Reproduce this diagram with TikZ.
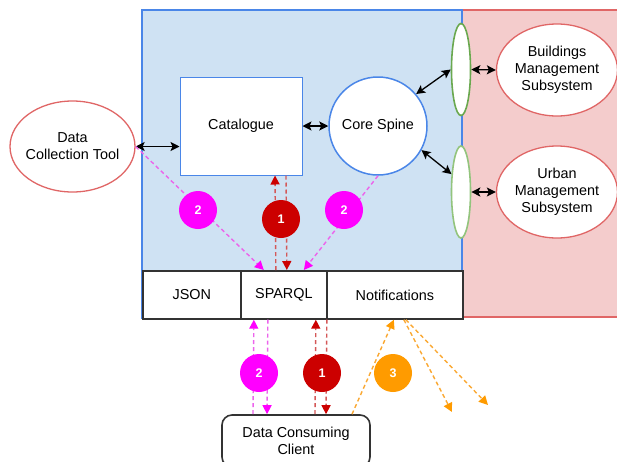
\documentclass[tikz,border=0pt]{standalone}
\usepackage{fontspec}
\setmainfont{Liberation Sans}
\usetikzlibrary{shapes.geometric,arrows.meta}
\definecolor{panelblue}{RGB}{207,226,243}
\definecolor{edgeblue}{RGB}{74,134,232}
\definecolor{panelpink}{RGB}{244,204,204}
\definecolor{edgered}{RGB}{224,102,102}
\definecolor{gdark}{RGB}{106,168,79}
\definecolor{glight}{RGB}{147,196,125}
\definecolor{ink}{RGB}{51,51,51}
\definecolor{mag}{RGB}{255,0,255}
\definecolor{maglight}{RGB}{236,100,236}
\definecolor{crimson}{RGB}{204,0,0}
\definecolor{crimsonlight}{RGB}{212,88,88}
\definecolor{amber}{RGB}{255,155,0}
\definecolor{amberlight}{RGB}{250,168,50}
\begin{document}
\begin{tikzpicture}[x=1pt,y=-1pt,
  every node/.style={font=\fontsize{14.4pt}{17pt}\selectfont, align=center, text=black},
  oval/.style={ellipse, draw=edgered, line width=1.3pt, fill=white, inner sep=0pt},
  port/.style={ellipse, fill=white, line width=1.6pt, inner sep=0pt, minimum width=19pt, minimum height=92pt},
  cell/.style={rectangle, draw=ink, line width=1.7pt, fill=white, minimum height=48pt, inner sep=0pt, anchor=north west},
  badge/.style={circle, inner sep=0pt, minimum size=38pt, text=white, font=\fontsize{12.5pt}{14pt}\selectfont\bfseries},
  link/.style={draw=black, line width=1.3pt, {Stealth[length=9pt,width=9pt,inset=2pt]}-{Stealth[length=9pt,width=9pt,inset=2pt]}},
  flow/.style={line width=1.4pt, dash pattern=on 4pt off 3pt},
  magflow/.style={flow, draw=maglight, -{Triangle[length=9pt,width=9pt,color=mag]}},
  redflow/.style={flow, draw=crimsonlight, -{Triangle[length=9pt,width=9pt,color=crimson]}},
  ambflow/.style={flow, draw=amberlight, -{Triangle[length=9pt,width=9pt,color=amber]}},
]
\useasboundingbox (0,0) rectangle (617,461);

% panels
\draw[draw=edgered, fill=panelpink, line width=1.2pt] (462,10) rectangle (660,317);
\draw[draw=edgeblue, fill=panelblue, line width=1.5pt] (142,10) rectangle (462,318);

% interface row
\node[cell, minimum width=98pt] (json) at (142,270) {JSON};
\node[cell, minimum width=86pt] (sparql) at (240,270) {SPARQL};
\node[cell, minimum width=136pt] (notif) at (326,270) {Notifications};

% components
\node[draw=edgeblue, line width=1pt, fill=white, minimum width=122pt, minimum height=98pt, inner sep=0pt] (cat) at (241,126) {Catalogue};
\node[circle, draw=edgeblue, line width=1.5pt, fill=white, minimum size=98pt, inner sep=0pt] (core) at (378,126) {Core Spine};
\node[port, draw=gdark] (gtop) at (461,69.5) {};
\node[port, draw=glight] (gbot) at (461,192) {};

\node[oval, minimum width=121pt, minimum height=92pt] (bms) at (557,70) {};
\node at (bms) {Buildings\\Management\\Subsystem};
\node[oval, minimum width=121pt, minimum height=92pt] (ums) at (557,192) {};
\node at (ums) {Urban\\Management\\Subsystem};
\node[oval, minimum width=125pt, minimum height=91pt] (dct) at (72.5,146.5) {};
\node at (dct) {Data\\Collection Tool};

\node[draw=ink, line width=1.6pt, rounded corners=10pt, fill=white, minimum width=148pt, minimum height=52pt, inner sep=0pt] (client) at (296,441) {Data Consuming\\Client};

% solid links
\draw[link] (dct.east) -- (dct.east -| cat.west);
\draw[link] (cat.east) -- (core.west);
\draw[link] (core.40) -- (gtop.west);
\draw[link] (core.-29) -- (gbot.118);
\draw[link] (gtop.east) -- (bms.west);
\draw[link] (gbot.east) -- (ums.west);

% request flows
\draw[magflow] (dct.east) -- ([xshift=-20pt]sparql.north);
\draw[magflow] (core.south) -- ([xshift=20pt]sparql.north);
\draw[redflow] ([xshift=-8pt]sparql.north) -- ([xshift=34pt]cat.south);
\draw[redflow] ([xshift=45pt]cat.south) -- ([xshift=3pt]sparql.north);

\draw[magflow] ([xshift=-43pt]client.north) -- ([xshift=-30pt]sparql.south);
\draw[magflow] ([xshift=-16pt]sparql.south) -- ([xshift=-29pt]client.north);
\draw[redflow] ([xshift=19pt]client.north) -- ([xshift=32pt]sparql.south);
\draw[redflow] ([xshift=43pt]sparql.south) -- ([xshift=30pt]client.north);

% notifications
\coordinate (fanA) at (452,412);
\coordinate (fanB) at (488,405);
\draw[ambflow] ([xshift=56pt]client.north) -- ([xshift=-1pt]notif.south);
\draw[ambflow] ([xshift=9pt]notif.south) -- (fanA);
\draw[ambflow] ([xshift=11pt]notif.south) -- (fanB);

% step badges
\node[badge, fill=mag] (b2a) at (198,210) {2};
\node[badge, fill=mag] (b2b) at (344,210) {2};
\node[badge, fill=crimson] (b1a) at (281,219) {1};
\node[badge, fill=mag] (b2c) at (259,373) {2};
\node[badge, fill=crimson] (b1b) at (322,373) {1};
\node[badge, fill=amber] (b3) at (393,373) {3};
\end{tikzpicture}
\end{document}
